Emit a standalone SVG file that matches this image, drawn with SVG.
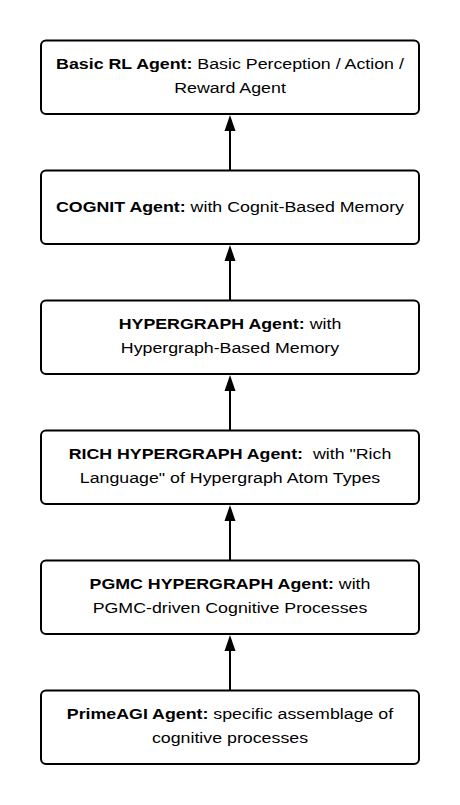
<svg xmlns="http://www.w3.org/2000/svg" width="460" height="805" viewBox="0 0 460 805">
<defs>
<style>
.box{fill:#ffffff;stroke:#000000;stroke-width:2}
.lbl{font-family:"Liberation Sans",Arial,Helvetica,sans-serif;font-size:15.3px;fill:#000000;text-anchor:middle;white-space:pre}
.b{font-weight:bold}
.conn{stroke:#000000;stroke-width:2;fill:none}
.head{fill:#000000}
</style>
</defs>
<rect width="460" height="805" fill="#ffffff"/>
<g id="connectors">
<line class="conn" x1="230" y1="170.5" x2="230" y2="128"/>
<polygon class="head" points="230,115 224.5,131 235.5,131"/>
<line class="conn" x1="230" y1="300.5" x2="230" y2="258"/>
<polygon class="head" points="230,245 224.5,261 235.5,261"/>
<line class="conn" x1="230" y1="430.5" x2="230" y2="388"/>
<polygon class="head" points="230,375 224.5,391 235.5,391"/>
<line class="conn" x1="230" y1="560.5" x2="230" y2="518"/>
<polygon class="head" points="230,505 224.5,521 235.5,521"/>
<line class="conn" x1="230" y1="690.5" x2="230" y2="648"/>
<polygon class="head" points="230,635 224.5,651 235.5,651"/>
</g>
<g id="node-basic-rl">
<rect class="box" x="41" y="40.5" width="378" height="73.5" rx="5"/>
<g transform="matrix(1.163 0 0 1 -37.49 0)">
<text class="lbl" x="230" y="69.5"><tspan class="b">Basic RL Agent:</tspan> Basic Perception / Action /</text>
<text class="lbl" x="230" y="93">Reward Agent</text>
</g>
</g>
<g id="node-cognit">
<rect class="box" x="41" y="170.5" width="378" height="73.5" rx="5"/>
<g transform="matrix(1.163 0 0 1 -37.49 0)">
<text class="lbl" x="230" y="212.5"><tspan class="b">COGNIT Agent:</tspan> with Cognit-Based Memory</text>
</g>
</g>
<g id="node-hypergraph">
<rect class="box" x="41" y="300.5" width="378" height="73.5" rx="5"/>
<g transform="matrix(1.163 0 0 1 -37.49 0)">
<text class="lbl" x="230" y="329.5"><tspan class="b">HYPERGRAPH Agent:</tspan> with</text>
<text class="lbl" x="230" y="353">Hypergraph-Based Memory</text>
</g>
</g>
<g id="node-rich-hypergraph">
<rect class="box" x="41" y="430.5" width="378" height="73.5" rx="5"/>
<g transform="matrix(1.163 0 0 1 -37.49 0)">
<text class="lbl" x="230" y="459.5" xml:space="preserve"><tspan class="b">RICH HYPERGRAPH Agent:</tspan>  with "Rich</text>
<text class="lbl" x="230" y="483">Language" of Hypergraph Atom Types</text>
</g>
</g>
<g id="node-pgmc-hypergraph">
<rect class="box" x="41" y="560.5" width="378" height="73.5" rx="5"/>
<g transform="matrix(1.163 0 0 1 -37.49 0)">
<text class="lbl" x="230" y="589.5"><tspan class="b">PGMC HYPERGRAPH Agent:</tspan> with</text>
<text class="lbl" x="230" y="613">PGMC-driven Cognitive Processes</text>
</g>
</g>
<g id="node-primeagi">
<rect class="box" x="41" y="690.5" width="378" height="73.5" rx="5"/>
<g transform="matrix(1.163 0 0 1 -37.49 0)">
<text class="lbl" x="230" y="719.5"><tspan class="b">PrimeAGI Agent:</tspan> specific assemblage of</text>
<text class="lbl" x="230" y="743">cognitive processes</text>
</g>
</g>
</svg>
